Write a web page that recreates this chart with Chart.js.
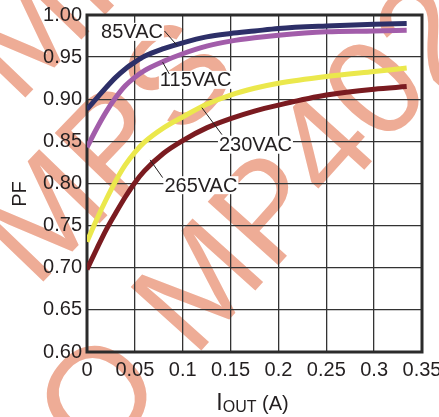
<!DOCTYPE html>
<html>
<head>
<meta charset="utf-8">
<script src="https://cdn.jsdelivr.net/npm/chart.js@4/dist/chart.umd.min.js"></script>
<style>
  html, body { margin: 0; padding: 0; background: #fff; }
  #wrap { width: 439px; height: 417px; }
</style>
</head>
<body>
<div id="wrap"><canvas id="pfChart" width="439" height="417"></canvas></div>
<script>
// === Data ===
const iout = [0, 0.01, 0.02, 0.03, 0.04, 0.05, 0.06, 0.08, 0.1, 0.125, 0.15, 0.175, 0.2, 0.25, 0.3, 0.334];
const pf85  = [0.888, 0.901, 0.914, 0.926, 0.936, 0.944, 0.951, 0.960, 0.967, 0.974, 0.978, 0.981, 0.984, 0.987, 0.989, 0.990];
const pf115 = [0.843, 0.865, 0.885, 0.902, 0.916, 0.926, 0.934, 0.945, 0.954, 0.963, 0.969, 0.973, 0.976, 0.980, 0.981, 0.982];
const pf230 = [0.731, 0.757, 0.781, 0.803, 0.822, 0.837, 0.849, 0.866, 0.879, 0.894, 0.905, 0.913, 0.919, 0.927, 0.933, 0.937];
const pf265 = [0.698, 0.722, 0.745, 0.765, 0.784, 0.801, 0.815, 0.836, 0.851, 0.866, 0.877, 0.886, 0.893, 0.905, 0.912, 0.915];
const seriesNames = ['85VAC', '115VAC', '230VAC', '265VAC'];
const xTickLabels = ['0', '0.05', '0.1', '0.15', '0.2', '0.25', '0.3', '0.35'];
const yTickLabels = ['0.60', '0.65', '0.70', '0.75', '0.80', '0.85', '0.90', '0.95', '1.00'];

const FONT = '"Liberation Sans", Arial, sans-serif';
const INK = '#231f20';
const colors = ['#2d2f68', '#a25daa', '#ebe84c', '#7a1b20'];

// callout labels (data coords): text centre, leader start, leader end
const callouts = [
  { text: seriesNames[0], at: [0.047, 0.980], from: [0.081, 0.981], to: [0.094, 0.964] },
  { text: seriesNames[1], at: [0.1135, 0.923], from: [0.079, 0.944], to: [0.086, 0.930] },
  { text: seriesNames[2], at: [0.176, 0.846], from: [0.120, 0.890], to: [0.141, 0.858] },
  { text: seriesNames[3], at: [0.119, 0.798], from: [0.066, 0.828], to: [0.079, 0.807] }
];

const toPoints = arr => arr.map((y, i) => ({ x: iout[i], y }));

// === Watermark (behind everything) ===
const watermark = {
  id: 'watermark',
  beforeDraw(chart) {
    const ctx = chart.ctx;
    ctx.save();
    ctx.fillStyle = '#fff';
    ctx.fillRect(0, 0, chart.width, chart.height);
    ctx.fillStyle = 'rgb(238,172,150)';
    ctx.font = '138px ' + FONT;
    ctx.textBaseline = 'middle';
    const rows = [
      { text: 'O MP402', x: 104, y: 402, rot: -48 },
      { text: 'MPS', x: 48, y: 222, rot: -46 },
      { text: 'MPS', x: 30, y: 38, rot: -46 }
    ];
    rows.forEach(r => {
      ctx.save();
      ctx.translate(r.x, r.y);
      ctx.rotate(r.rot * Math.PI / 180);
      ctx.fillText(r.text, -ctx.measureText(r.text[0]).width / 2, 0);
      ctx.restore();
    });
    ctx.restore();
  }
};

// === Frame, callouts, axis titles ===
const decorations = {
  id: 'decorations',
  beforeDatasetsDraw(chart) {
    const { ctx, chartArea: a } = chart;
    ctx.save();
    ctx.strokeStyle = '#2b2b2b';
    ctx.lineWidth = 3;
    ctx.strokeRect(a.left, a.top, a.right - a.left, a.bottom - a.top);
    ctx.restore();
  },
  afterDatasetsDraw(chart) {
    const { ctx, scales: { x, y } } = chart;
    ctx.save();
    ctx.font = '20px ' + FONT;
    ctx.textAlign = 'center';
    ctx.textBaseline = 'middle';
    callouts.forEach(c => {
      const cx = x.getPixelForValue(c.at[0]);
      const cy = y.getPixelForValue(c.at[1]);
      const w = ctx.measureText(c.text).width;
      ctx.fillStyle = '#fff';
      ctx.fillRect(cx - w / 2 - 1, cy - 9, w + 2, 18);
      ctx.fillStyle = INK;
      ctx.fillText(c.text, cx, cy + 1);
      ctx.strokeStyle = INK;
      ctx.lineWidth = 1;
      ctx.beginPath();
      ctx.moveTo(x.getPixelForValue(c.from[0]), y.getPixelForValue(c.from[1]));
      ctx.lineTo(x.getPixelForValue(c.to[0]), y.getPixelForValue(c.to[1]));
      ctx.stroke();
    });
    ctx.restore();
  },
  afterDraw(chart) {
    const { ctx, chartArea: a } = chart;
    ctx.save();
    ctx.fillStyle = INK;
    ctx.textBaseline = 'alphabetic';
    ctx.textAlign = 'left';
    // I_OUT (A)
    const parts = [
      { t: 'I', f: '23px ' + FONT, dy: 0 },
      { t: 'OUT', f: '16px ' + FONT, dy: 2 },
      { t: ' (A)', f: '20px ' + FONT, dy: 0 }
    ];
    let total = 0;
    parts.forEach(p => { ctx.font = p.f; p.w = ctx.measureText(p.t).width; total += p.w; });
    let px = (a.left + a.right) / 2 - total / 2 - 2;
    parts.forEach(p => { ctx.font = p.f; ctx.fillText(p.t, px, 410 + p.dy); px += p.w; });
    // PF
    ctx.font = '20px ' + FONT;
    ctx.textAlign = 'center';
    ctx.textBaseline = 'middle';
    ctx.translate(20, 194);
    ctx.rotate(-Math.PI / 2);
    ctx.fillText('PF', 0, 0);
    ctx.restore();
  }
};

new Chart(document.getElementById('pfChart'), {
  type: 'line',
  data: {
    datasets: [pf85, pf115, pf230, pf265].map((d, i) => ({
      label: seriesNames[i],
      data: toPoints(d),
      borderColor: colors[i],
      borderWidth: 5,
      pointRadius: 0,
      fill: false,
      cubicInterpolationMode: 'monotone'
    }))
  },
  options: {
    responsive: false,
    animation: false,
    layout: { padding: { top: 15, right: 17, bottom: 0, left: 0 } },
    plugins: { legend: { display: false }, tooltip: { enabled: false } },
    scales: {
      x: {
        type: 'linear', min: 0, max: 0.35,
        ticks: {
          stepSize: 0.05, padding: 6, color: INK, maxRotation: 0, autoSkip: false,
          font: { family: FONT, size: 20 },
          callback: (v, i) => xTickLabels[i]
        },
        grid: { color: '#333', lineWidth: 1.3, drawTicks: false },
        border: { display: false },
        afterFit(s) { s.height = 65; s.paddingLeft = 0; s.paddingRight = 0; }
      },
      y: {
        min: 0.6, max: 1.0,
        ticks: {
          stepSize: 0.05, padding: 5, color: INK,
          font: { family: FONT, size: 20 },
          callback: (v, i) => yTickLabels[i]
        },
        grid: { color: '#333', lineWidth: 1.3, drawTicks: false },
        border: { display: false },
        afterFit(s) { s.width = 87; s.paddingTop = 0; s.paddingBottom = 0; }
      }
    }
  },
  plugins: [watermark, decorations]
});
</script>
</body>
</html>
